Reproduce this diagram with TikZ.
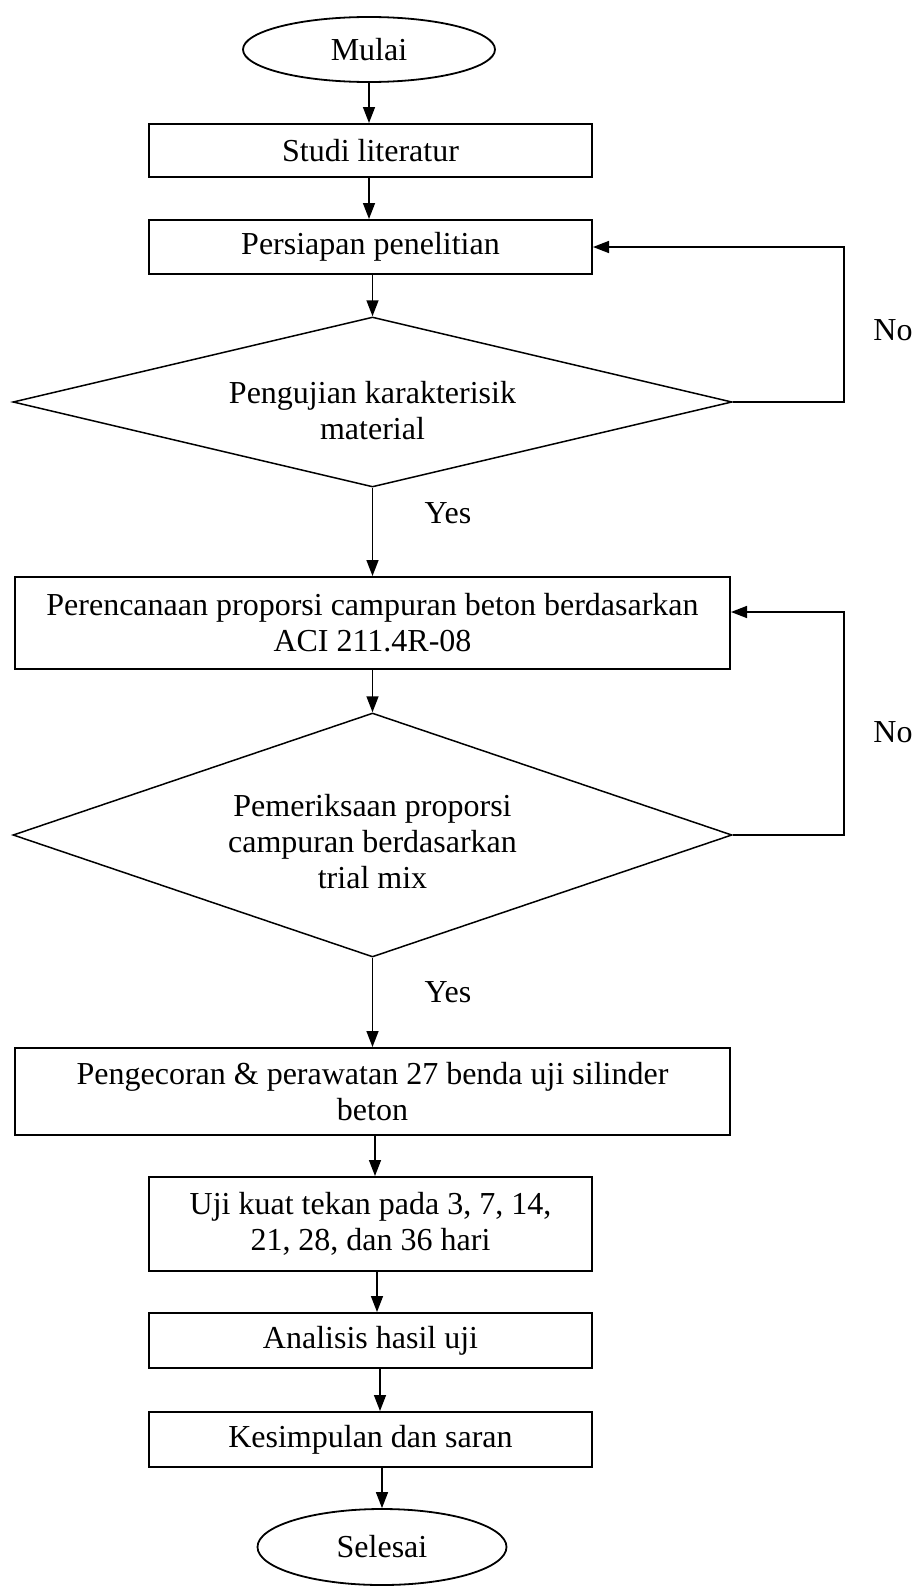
\documentclass[tikz,border=0pt]{standalone}
\usepackage{fontspec}
\setmainfont{Liberation Serif}
\usetikzlibrary{shapes.geometric,arrows.meta,calc}
\begin{document}
\begin{tikzpicture}[x=1pt,y=-1pt,
  every node/.style={font=\fontsize{32}{36}\selectfont},
  procbox/.style={draw,line width=2pt,rectangle,inner sep=0pt,align=center},
  termbox/.style={draw,line width=1.8pt,ellipse,inner sep=0pt},
  decbox/.style={draw,line width=1.5pt,diamond,inner sep=0pt},
  lbl/.style={inner sep=0pt,align=center},
  arr/.style={line width=1.5pt,-{Triangle[length=16pt,width=12pt]}},
  ln/.style={line width=1.5pt}]
\useasboundingbox (0,0) rectangle (914,1587);
\node[termbox,minimum width=252,minimum height=65] (mulai) at (369,49.5) {Mulai};
\node[procbox,minimum width=443,minimum height=53] (studi) at (370.5,150.5) {Studi literatur};
\node[procbox,minimum width=443,minimum height=54] (persiapan) at (370.5,247) {Persiapan penelitian};
\node[decbox,minimum width=719,minimum height=170] (d1) at (372.5,402) {};
\node[lbl] (d1t) at (372.5,411) {Pengujian karakterisik\\material};
\node[procbox,minimum width=715,minimum height=92] (perenc) at (372.5,623) {Perencanaan proporsi campuran beton berdasarkan\\ACI 211.4R-08};
\node[decbox,minimum width=719,minimum height=244] (d2) at (372.5,835) {};
\node[lbl] (d2t) at (372.5,842) {Pemeriksaan proporsi\\campuran berdasarkan\\trial mix};
\node[procbox,minimum width=715,minimum height=87] (cor) at (372.5,1091.5) {Pengecoran \& perawatan 27 benda uji silinder\\beton};
\node[procbox,minimum width=443,minimum height=94] (uji) at (370.5,1224) {Uji kuat tekan pada 3, 7, 14,\\21, 28, dan 36 hari};
\node[procbox,minimum width=443,minimum height=55] (anal) at (370.5,1340.5) {Analisis hasil uji};
\node[procbox,minimum width=443,minimum height=55] (kes) at (370.5,1439.5) {Kesimpulan dan saran};
\node[termbox,minimum width=249,minimum height=76] (sel) at (382,1547) {Selesai};
\node[lbl] (yes1) at (448,513) {Yes};
\node[lbl] (yes2) at (448,992) {Yes};
\node[lbl] (no1) at (893,330) {No};
\node[lbl] (no2) at (893,732) {No};
\coordinate (c1) at (844,402);
\coordinate (c2) at (844,835);
\coordinate (c2top) at (844,612);
\coordinate (a7) at ($(cor.south)+(2.5,0)$);
\coordinate (a8) at ($(uji.south)+(6.5,0)$);
\coordinate (a9) at ($(anal.south)+(9.5,0)$);
% main flow
\draw[arr] (mulai.south) -- (studi.north -| mulai.south);
\draw[arr] (studi.south -| mulai.south) -- (persiapan.north -| mulai.south);
\draw[arr] (persiapan.south -| d1.north) -- (d1.north);
\draw[arr] (d1.south) -- (perenc.north -| d1.south);
\draw[arr] (perenc.south -| d2.north) -- (d2.north);
\draw[arr] (d2.south) -- (cor.north -| d2.south);
\draw[arr] (a7) -- (uji.north -| a7);
\draw[arr] (a8) -- (anal.north -| a8);
\draw[arr] (a9) -- (kes.north -| a9);
\draw[arr] (kes.south -| sel.north) -- (sel.north);
% feedback loops
\draw[arr] (d1.east) -- (c1) |- (persiapan.east);
\draw[arr] (d2.east) -- (c2) -- (c2top) -- (perenc.east |- c2top);
\end{tikzpicture}
\end{document}
